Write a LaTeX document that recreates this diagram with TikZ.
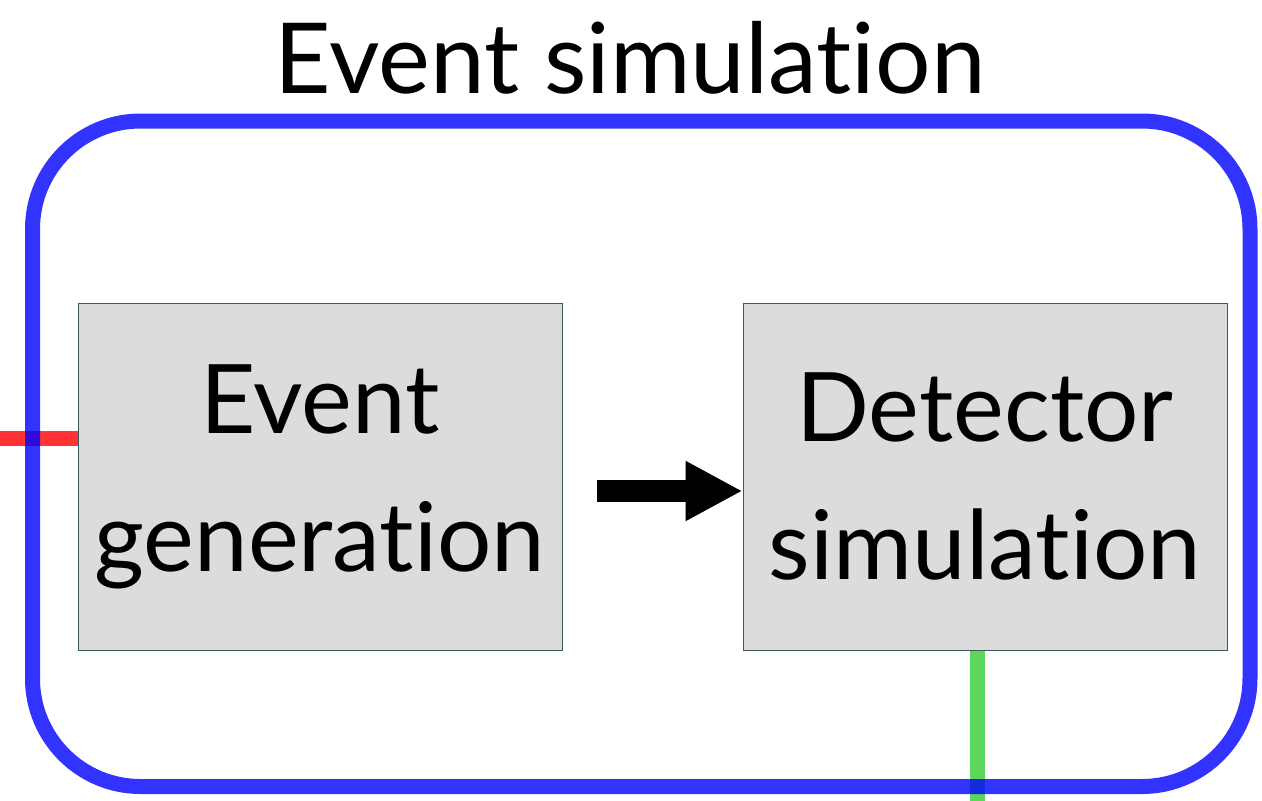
\documentclass[tikz,border=0pt]{standalone}
\usepackage{fontspec}
\setmainfont{Lato}[Ligatures={NoCommon,NoDiscretionary}]
\usetikzlibrary{arrows.meta,calc}
\definecolor{boxfill}{RGB}{220,220,220}
\definecolor{boxline}{RGB}{60,90,90}
\definecolor{bluec}{RGB}{0,0,255}
\definecolor{redc}{RGB}{255,0,0}
\definecolor{greenc}{RGB}{51,204,51}
\tikzset{
  stagebox/.style={draw=boxline, line width=1pt, fill=boxfill, minimum width=484pt, minimum height=347pt, inner sep=0pt, align=center, font=\fontsize{96}{138}\selectfont},
  frame/.style={draw=bluec, draw opacity=0.8, line width=15pt, rounded corners=108pt},
  link/.style={line width=14.5pt, draw opacity=0.8},
  flow/.style={line width=22pt, -{Triangle[length=57pt,width=56pt]}}
}
\begin{document}
\begin{tikzpicture}[x=1pt,y=-1pt]
\useasboundingbox (0,0) rectangle (1262,801);
\node[stagebox] (gen) at (320,476.5) {Event\\generation};
\node[stagebox] (det) at (985,476.5) {Detector\\simulation};
\node[anchor=base, font=\fontsize{98}{118}\selectfont, inner sep=0pt] (title) at (630,93) {Event simulation};
\coordinate (redstart) at (0,438.5);
\coordinate (greenend) at (977.5,801);
\draw[link, draw=redc] (redstart) -- (redstart -| gen.west);
\draw[link, draw=greenc] (greenend |- det.south) -- (greenend);
\draw[frame] (32.5,121) rectangle (1250,786.5);
\draw[flow] ($(gen.east)+(34,14.5)$) -- ($(det.west)+(0,14.5)$);
\end{tikzpicture}
\end{document}
